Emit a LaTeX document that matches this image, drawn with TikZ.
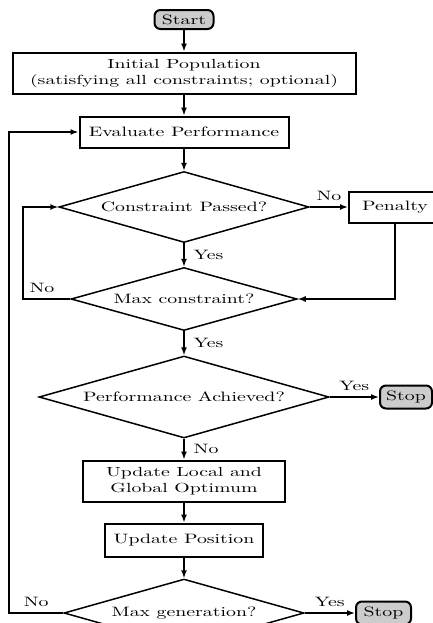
\documentclass[tikz,border=0pt]{standalone}
\usetikzlibrary{shapes.geometric,arrows.meta}
\newcommand{\sq}[1]{\scalebox{0.99}[0.68]{#1}}
\newcommand{\sqt}[1]{\scalebox{0.99}[0.66]{\begin{tabular}{@{}c@{}}#1\end{tabular}}}
\begin{document}
\begin{tikzpicture}[x=0.5pt,y=-0.5pt,
  box/.style={draw,line width=1pt,inner sep=0pt,align=center},
  term/.style={draw,line width=1pt,rounded corners=3pt,fill=gray!40,inner sep=0pt},
  dec/.style={draw,diamond,line width=0.75pt,inner sep=0pt},
  arr/.style={line width=0.75pt,-{Latex[length=4pt,width=3pt]}},
  lblr/.style={right,inner sep=0pt,xshift=4.5pt},
  lbla/.style={above,inner sep=0pt,yshift=2.8pt}]
\useasboundingbox (0,0) rectangle (433,623);
\clip (0,0) rectangle (433,623);
\node[term,minimum width=29.5pt,minimum height=9.5pt] (start) at (184,19.5) {\sq{Start}};
\node[box,minimum width=171.5pt,minimum height=20.5pt] (init) at (184,73) {\sqt{Initial Population\\(satisfying all constraints; optional)}};
\node[box,minimum width=104.5pt,minimum height=15.5pt] (eval) at (184,132) {\sq{Evaluate Performance}};
\node[dec,minimum width=125pt,minimum height=35.5pt,aspect=3.5] (cp) at (184,207) {\sq{Constraint Passed?}};
\node[box,minimum width=46pt,minimum height=15.5pt] (pen) at (395,207) {\sq{Penalty}};
\node[dec,minimum width=113pt,minimum height=31.5pt,aspect=3.6] (mc) at (184,299) {\sq{Max constraint?}};
\node[dec,minimum width=145pt,minimum height=41pt,aspect=3.5] (pa) at (184,397) {\sq{Performance Achieved?}};
\node[term,minimum width=26pt,minimum height=11.5pt] (stop1) at (406,397) {\sq{Stop}};
\node[box,minimum width=101pt,minimum height=20.5pt] (ul) at (184,481) {\sqt{Update Local and\\Global Optimum}};
\node[box,minimum width=79pt,minimum height=16.5pt] (up) at (184,540) {\sq{Update Position}};
\node[dec,minimum width=120pt,minimum height=34pt,aspect=3.5] (mg) at (184,613) {\sq{Max generation?}};
\node[term,minimum width=27.5pt,minimum height=11.5pt] (stop2) at (383.5,613) {\sq{Stop}};
\coordinate (lc) at (23,299);
\coordinate (lg) at (9,613);
\draw[arr] (start) -- (init);
\draw[arr] (init) -- (eval);
\draw[arr] (eval) -- (cp);
\draw[arr] (cp) -- node[lblr] (y1) {\sq{Yes}} (mc);
\draw[arr] (mc) -- node[lblr] (y2) {\sq{Yes}} (pa);
\draw[arr] (pa) -- node[lblr] (n1) {\sq{No}} (ul);
\draw[arr] (ul) -- (up);
\draw[arr] (up) -- (mg);
\draw[arr] (cp) -- node[lbla] (n2) {\sq{No}} (pen);
\draw[arr] (pen) |- (mc);
\draw[arr] (mc.west) -- node[lbla,pos=0.6] (n3) {\sq{No}} (lc) |- (cp.west);
\draw[arr] (pa) -- node[lbla] (y3) {\sq{Yes}} (stop1);
\draw[arr] (mg.west) -- node[lbla] (n4) {\sq{No}} (lg) |- (eval.west);
\draw[arr] (mg) -- node[lbla] (y4) {\sq{Yes}} (stop2);
\end{tikzpicture}
\end{document}
